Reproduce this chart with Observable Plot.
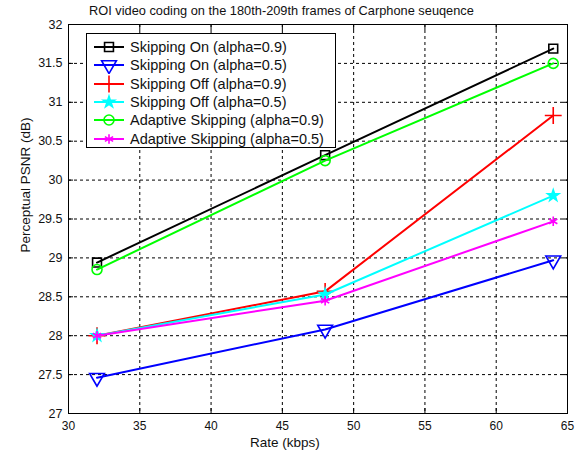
<!DOCTYPE html>
<html>
<head>
<meta charset="utf-8">
<script src="https://cdn.jsdelivr.net/npm/d3@7"></script>
<script src="https://cdn.jsdelivr.net/npm/@observablehq/plot@0.6"></script>
<style>
  body { margin: 0; background: #fff; font-family: "Liberation Sans", Arial, sans-serif; }
  #wrap { position: relative; width: 585px; height: 459px; }
  .ov { position: absolute; color: #111; white-space: nowrap; }
  #legend { position: absolute; left: 86px; top: 33px; width: 250px; height: 115px; border: 1px solid #000; background: #fff; box-sizing: border-box; }
  .row { position: absolute; left: 0; height: 18px; font-size: 14.5px; line-height: 18px; }
  .row svg { position: absolute; left: 6px; top: 0; }
  .row span { position: absolute; left: 43px; top: 0; white-space: nowrap; color: #111; }
</style>
</head>
<body>
<div id="wrap"></div>
<script>
const rates = [32, 48, 64];
const seriesNames = [
  "Skipping On (alpha=0.9)",
  "Skipping On (alpha=0.5)",
  "Skipping Off (alpha=0.9)",
  "Skipping Off (alpha=0.5)",
  "Adaptive Skipping (alpha=0.9)",
  "Adaptive Skipping (alpha=0.5)"
];
const skipOn09 = [28.94, 30.32, 31.69];
const skipOn05 = [27.46, 28.08, 28.97];
const skipOff09 = [28.00, 28.57, 30.83];
const skipOff05 = [28.00, 28.53, 29.80];
const adapt09 = [28.85, 30.25, 31.50];
const adapt05 = [28.00, 28.45, 29.47];
const xTicks = [30, 35, 40, 45, 50, 55, 60, 65];
const yTicks = [27, 27.5, 28, 28.5, 29, 29.5, 30, 30.5, 31, 31.5, 32];

const colors = ["#000000", "#0000ff", "#ff0000", "#00ffff", "#00ff00", "#ff00ff"];
const symbols = ["square", "triangle", "plus", "star", "circle", "asterisk"];
const sizes = [5, 5.5, 5.5, 3.5, 5, 4.5];
const rotations = [0, 180, 0, 0, 0, 0];
const filled = [false, false, false, true, false, false];
const values = [skipOn09, skipOn05, skipOff09, skipOff05, adapt09, adapt05];

const data = [];
values.forEach((vals, i) => vals.forEach((v, j) => data.push({series: seriesNames[i], idx: i, rate: rates[j], psnr: v})));

const marks = [
  Plot.gridX(xTicks, {stroke: "#000", strokeOpacity: 1, strokeDasharray: "3,3", strokeWidth: 1}),
  Plot.gridY(yTicks, {stroke: "#000", strokeOpacity: 1, strokeDasharray: "3,3", strokeWidth: 1}),
  Plot.axisX(xTicks, {anchor: "bottom", tickSize: -5, tickPadding: 13, label: null, fontSize: 12, fill: "#111"}),
  Plot.axisX(xTicks, {anchor: "top", tickSize: -5, tickFormat: () => "", label: null}),
  Plot.axisY(yTicks, {anchor: "left", tickSize: -5, tickPadding: 11, label: null, fontSize: 12.5, fill: "#111", tickFormat: d => String(d)}),
  Plot.axisY(yTicks, {anchor: "right", tickSize: -5, tickFormat: () => "", label: null}),
  Plot.frame({stroke: "#000", strokeWidth: 1})
];
values.forEach((vals, i) => {
  const d = data.filter(r => r.idx === i);
  marks.push(Plot.line(d, {x: "rate", y: "psnr", stroke: colors[i], strokeWidth: 2}));
  marks.push(Plot.dot(d, {x: "rate", y: "psnr", symbol: () => symbols[i], rotate: rotations[i],
    stroke: colors[i], fill: filled[i] ? colors[i] : "none", strokeWidth: 1.6, r: sizes[i]}));
});

const chart = Plot.plot({
  width: 585, height: 459,
  marginTop: 24, marginBottom: 46, marginLeft: 68, marginRight: 18,
  style: {fontFamily: "Liberation Sans, Arial, sans-serif", fontSize: "12px", background: "#fff", overflow: "visible"},
  x: {domain: [30, 65]},
  y: {domain: [27, 32]},
  symbol: {type: "identity"},
  marks
});
const wrap = document.getElementById("wrap");
wrap.appendChild(chart);

function ov(text, css) {
  const d = document.createElement("div");
  d.className = "ov"; d.textContent = text; d.style.cssText += css; wrap.appendChild(d); return d;
}
ov("ROI video coding on the 180th-209th frames of Carphone seuqence", "left:89px; top:3px; font-size:12.8px;");
ov("Rate (kbps)", "left:250px; top:435px; font-size:13.5px;");
ov("Perceptual PSNR (dB)", "left:25px; top:185px; font-size:13.5px; transform: translate(-50%,-50%) rotate(-90deg);");

const legend = document.createElement("div");
legend.id = "legend";
wrap.appendChild(legend);
const typeMap = {square: d3.symbolSquare, triangle: d3.symbolTriangle, plus: d3.symbolPlus, star: d3.symbolStar, circle: d3.symbolCircle, asterisk: d3.symbolAsterisk};
seriesNames.forEach((name, i) => {
  const row = document.createElement("div");
  row.className = "row";
  row.style.top = (4 + i * 18.3) + "px";
  const r = sizes[i];
  const path = d3.symbol(typeMap[symbols[i]], Math.PI * r * r)();
  row.innerHTML = `<svg width="34" height="18"><line x1="1" x2="31" y1="9" y2="9" stroke="${colors[i]}" stroke-width="2"/>` +
    `<path d="${path}" transform="translate(16,9) rotate(${rotations[i]})" stroke="${colors[i]}" stroke-width="1.6" fill="${filled[i] ? colors[i] : 'none'}"/></svg>` +
    `<span>${name}</span>`;
  legend.appendChild(row);
});
</script>
</body>
</html>
